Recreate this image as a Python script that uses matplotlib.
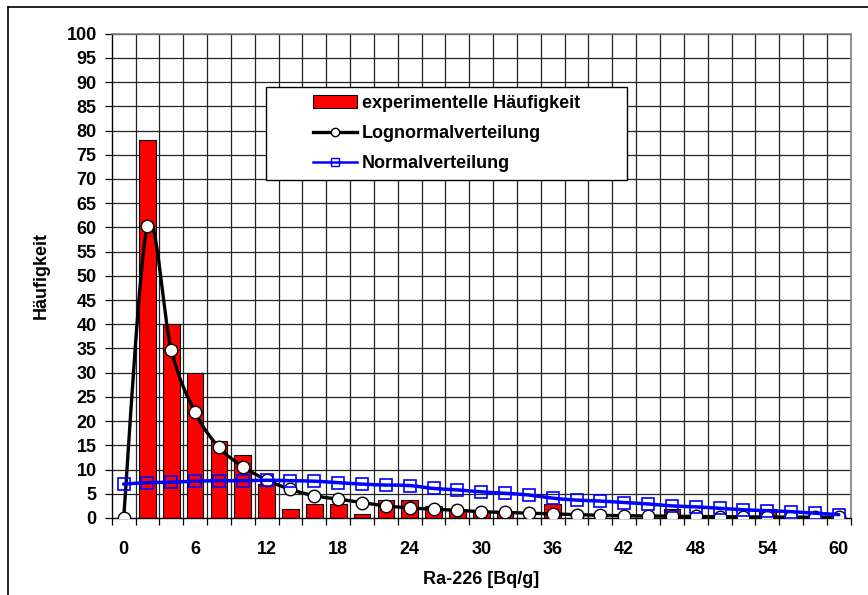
import numpy as np
import matplotlib
matplotlib.use("Agg")
import matplotlib.pyplot as plt
from matplotlib.path import Path
from matplotlib.patches import PathPatch, Rectangle, Patch
from matplotlib.lines import Line2D

plt.rcParams['font.family'] = ['Liberation Sans', 'DejaVu Sans']
plt.rcParams['font.weight'] = 'bold'

# ---- data ----
ra226 = [0, 2, 4, 6, 8, 10, 12, 14, 16, 18, 20, 22, 24, 26, 28, 30,
         32, 34, 36, 38, 40, 42, 44, 46, 48, 50, 52, 54, 56, 58, 60]
experimentell = [0, 78, 40, 30, 16, 13, 7, 1.9, 2.8, 2.8, 0.8, 3.7, 3.7, 2.5, 1.7, 1.3,
                 1.3, 0, 2.8, 0, 0, 0, 0, 1.9, 0, 0, 0, 1.9, 0, 0, 0]
lognormal = [0, 60.3, 34.7, 21.8, 14.6, 10.6, 7.85, 5.9, 4.6, 3.9, 3.2, 2.5, 2.1, 1.8, 1.6, 1.3,
             1.15, 1.0, 0.85, 0.7, 0.55, 0.48, 0.42, 0.37, 0.32, 0.27, 0.24, 0.21, 0.19, 0.17, 0.15]
normal = [7.0, 7.3, 7.4, 7.6, 7.7, 7.7, 7.8, 7.7, 7.6, 7.3, 7.0, 6.8, 6.7, 6.1, 5.8, 5.4,
          5.1, 4.75, 4.1, 3.7, 3.5, 3.2, 2.9, 2.5, 2.3, 2.0, 1.7, 1.5, 1.3, 1.0, 0.7]
xtick_labels = [0, 6, 12, 18, 24, 30, 36, 42, 48, 54, 60]
labels = ['experimentelle Häufigkeit', 'Lognormalverteilung', 'Normalverteilung']


def smooth_path(x, y):
    pts = np.column_stack([np.asarray(x, float), np.asarray(y, float)])
    n = len(pts)
    verts = [pts[0]]
    codes = [Path.MOVETO]
    for i in range(n - 1):
        p0 = pts[i - 1] if i > 0 else pts[i]
        p1 = pts[i]
        p2 = pts[i + 1]
        p3 = pts[i + 2] if i + 2 < n else pts[i + 1]
        c1 = p1 + (p2 - p0) / 6.0
        c2 = p2 - (p3 - p1) / 6.0
        verts += [c1, c2, p2]
        codes += [Path.CURVE4] * 3
    return Path(verts, codes)


W, H = 868, 595
fig = plt.figure(figsize=(W / 100, H / 100), dpi=100)
ax = fig.add_axes([111.7 / W, (H - 518) / H, (850.7 - 111.7) / W, (518 - 33.7) / H])

# outer chart border (cropped on right / bottom)
fig.add_artist(Line2D([8 / W, 1.0], [(H - 7) / H, (H - 7) / H], color='black', lw=1.2,
                      transform=fig.transFigure))
fig.add_artist(Line2D([8 / W, 8 / W], [(H - 7) / H, 0.0], color='black', lw=1.2,
                      transform=fig.transFigure))

ax.set_xlim(-1, 61)
ax.set_ylim(0, 100)

# bars
ax.bar(ra226, experimentell, width=1.4, color='#FF0000', edgecolor='black', linewidth=0.8, zorder=2)

# lognormal smoothed line + markers
ax.add_patch(PathPatch(smooth_path(ra226, lognormal), facecolor='none', edgecolor='black',
                       lw=2.4, zorder=3, joinstyle='round', capstyle='round'))
ax.plot(ra226, lognormal, ls='none', marker='o', ms=9, mfc='white', mec='black', mew=1.0, zorder=4)

# normal smoothed line + markers
ax.add_patch(PathPatch(smooth_path(ra226, normal), facecolor='none', edgecolor='#0000FF',
                       lw=2.5, zorder=5, joinstyle='round', capstyle='round'))
ax.plot(ra226, normal, ls='none', marker='s', ms=9, mfc='none', mec='#0000FF', mew=1.2, zorder=6)

# ticks / grid
ax.set_xticks(xtick_labels)
ax.set_xticklabels([str(v) for v in xtick_labels])
ax.set_xticks(np.arange(-1, 62, 2), minor=True)
ax.set_yticks(np.arange(0, 101, 5))
ax.tick_params(axis='x', which='major', length=0, pad=16.5, labelsize=13)
ax.tick_params(axis='x', which='minor', length=5, width=0.9, direction='out', color='black')
ax.tick_params(axis='y', which='major', length=5, width=0.9, direction='out', pad=5.8,
               labelsize=13, color='black')
ax.grid(False)
ax.set_axisbelow(True)
for xv in np.arange(1, 61, 2):
    ax.axvline(xv, color='#222222', lw=0.9, zorder=0.5)
for yv in np.arange(5, 101, 5):
    ax.axhline(yv, color='#222222', lw=0.9, zorder=0.5)

for s in ['top', 'right']:
    ax.spines[s].set_color('#808080')
    ax.spines[s].set_linewidth(1.2)
for s in ['left', 'bottom']:
    ax.spines[s].set_color('black')
    ax.spines[s].set_linewidth(1.0)

ax.set_xlabel('Ra-226 [Bq/g]', fontsize=13, fontweight='bold', labelpad=9.5)
ax.set_ylabel('Häufigkeit', fontsize=13, fontweight='bold', labelpad=12)

# legend frame + legend
ax.add_patch(Rectangle((0.2088, 0.698), 0.6973 - 0.2088, 0.890 - 0.698, transform=ax.transAxes,
                       facecolor='white', edgecolor='black', lw=1.0, zorder=9))
handles = [
    Patch(facecolor='#FF0000', edgecolor='black', linewidth=0.8),
    Line2D([], [], color='black', lw=2.4, marker='o', ms=6, mfc='white', mec='black', mew=1.0),
    Line2D([], [], color='#0000FF', lw=1.8, marker='s', ms=6, mfc='none', mec='#0000FF', mew=1.0),
]
leg = ax.legend(handles, labels, loc='center', bbox_to_anchor=(0.453, 0.794), frameon=False,
                prop={'size': 13, 'weight': 'bold'}, handlelength=2.45, handletextpad=0.3,
                labelspacing=0.72, borderpad=0.0, borderaxespad=0.0)
leg.set_zorder(10)

fig.savefig('out.png', dpi=100)
